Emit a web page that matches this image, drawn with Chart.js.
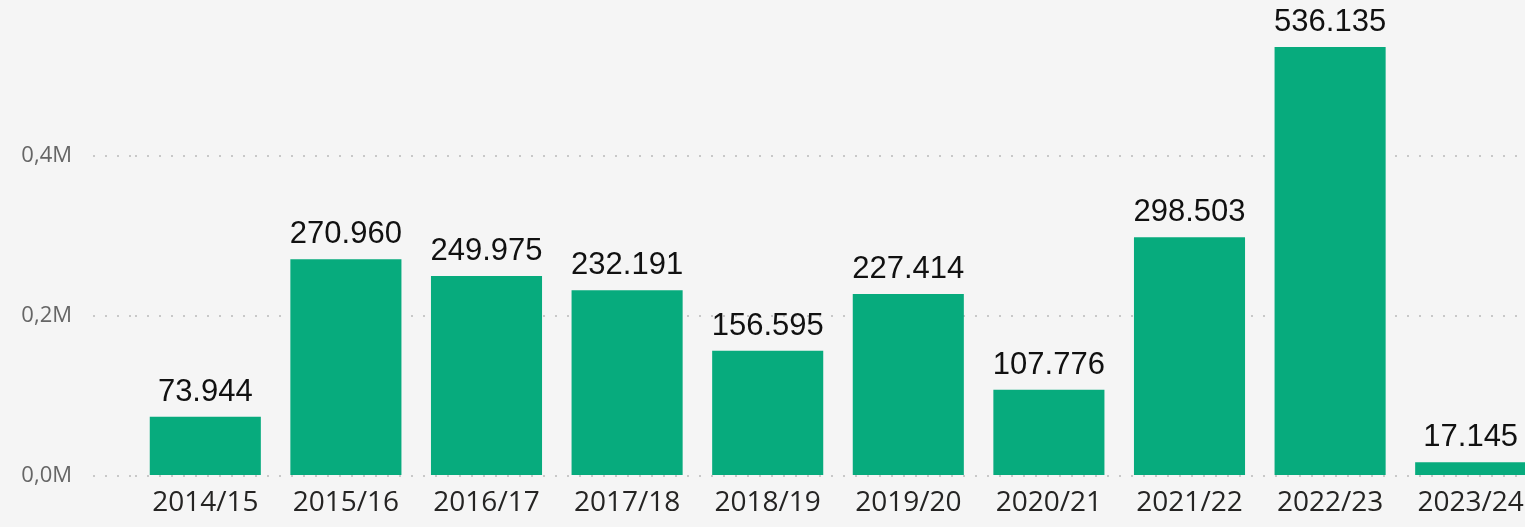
<!DOCTYPE html>
<html>
<head>
<meta charset="utf-8">
<script src="https://cdn.jsdelivr.net/npm/chart.js@4"></script>
<style>
    html, body { margin: 0; padding: 0; background: #f5f5f5; overflow: hidden; }
    #wrap { width: 1525px; height: 527px; overflow: hidden; }
</style>
</head>
<body>
<div id="wrap">
    <canvas id="barChart" width="1541" height="527"></canvas>
</div>
<script>
const seasons = ["2014/15", "2015/16", "2016/17", "2017/18", "2018/19", "2019/20", "2020/21", "2021/22", "2022/23", "2023/24"];
const values = [73944, 270960, 249975, 232191, 156595, 227414, 107776, 298503, 536135, 17145];
const yTicks = [0, 200000, 400000];

// value labels above each bar
const barLabels = {
    id: "barLabels",
    afterDatasetsDraw(chart) {
        const c = chart.ctx;
        const meta = chart.getDatasetMeta(0);
        c.save();
        c.font = "31px 'Liberation Sans', Arial, sans-serif";
        c.fillStyle = "#111";
        c.textAlign = "center";
        c.textBaseline = "alphabetic";
        meta.data.forEach((bar, i) => {
            c.fillText(values[i].toLocaleString("de-DE"), bar.x, bar.y - 16);
        });
        c.restore();
    }
};

const ctx = document.getElementById("barChart").getContext("2d");

new Chart(ctx, {
    type: "bar",
    data: {
        labels: seasons,
        datasets: [{
            data: values,
            backgroundColor: "#07ab7d",
            barPercentage: 0.79,
            categoryPercentage: 1
        }]
    },
    options: {
        responsive: false,
        animation: false,
        layout: { padding: 0 },
        plugins: {
            legend: { display: false },
            tooltip: { enabled: false }
        },
        scales: {
            x: {
                grid: { display: false, drawTicks: false },
                border: { display: false },
                ticks: {
                    color: "#252423",
                    font: { family: "'Open Sans', sans-serif", size: 28 },
                    padding: 10,
                    maxRotation: 0,
                    autoSkip: false
                },
                afterFit(scale) {
                    scale.height = 51;
                    scale.paddingLeft = 0;
                    scale.paddingRight = 0;
                }
            },
            y: {
                min: 0,
                max: 595000,
                border: { display: false, dash: [2, 10] },
                grid: {
                    color: "#c8c8c8",
                    lineWidth: 2,
                    tickColor: "#c8c8c8",
                    tickBorderDash: [2, 10],
                    tickLength: 42
                },
                afterBuildTicks(scale) {
                    scale.ticks = yTicks.map(v => ({ value: v }));
                },
                ticks: {
                    includeBounds: false,
                    color: "#666",
                    padding: 21,
                    font: { family: "'Open Sans', sans-serif", size: 22 },
                    callback: v => (v / 1000000).toFixed(1).replace(".", ",") + "M"
                },
                afterFit(scale) {
                    scale.width = 135;
                    scale.paddingTop = 0;
                    scale.paddingBottom = 0;
                }
            }
        }
    },
    plugins: [barLabels]
});
</script>
</body>
</html>
